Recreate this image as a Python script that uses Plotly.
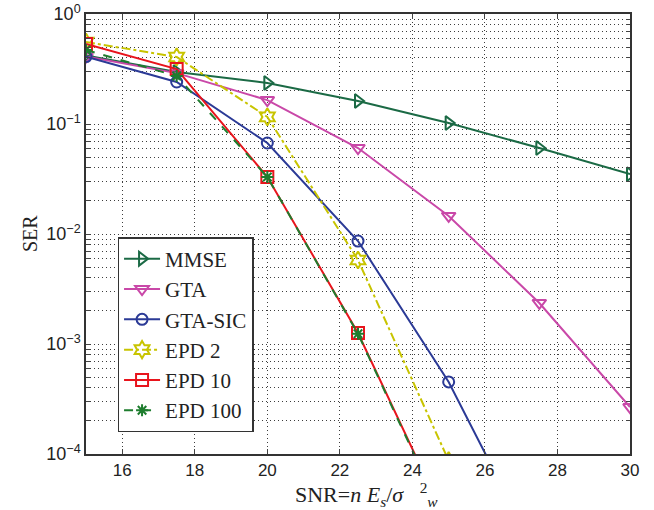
import plotly.graph_objects as go

snr = [15, 17.5, 20, 22.5, 25, 27.5, 30]
mmse = [0.42, 0.297, 0.236, 0.162, 0.102, 0.0605, 0.035]
gta = [0.41, 0.29, 0.165, 0.0605, 0.0146, 0.00236, 0.000267]
gta_sic = [0.41, 0.241, 0.0672, 0.00863, 0.000452, 1.1e-5, 2e-7]
epd2 = [0.556, 0.407, 0.116, 0.0058, 8.7e-5, 5e-7, 1e-9]
epd10 = [0.533, 0.316, 0.033, 0.00126, 2.2e-5, 1.5e-7, 1e-9]
epd100 = [0.47, 0.273, 0.033, 0.00124, 2.1e-5, 1.5e-7, 1e-9]

decades = [-4, -3, -2, -1]
major_labels = {0: "10<sup>0</sup>", -1: "10<sup>−1</sup>", -2: "10<sup>−2</sup>",
                -3: "10<sup>−3</sup>", -4: "10<sup>−4</sup>"}
xtick_vals = [16, 18, 20, 22, 24, 26, 28, 30]
x_title = "SNR=<i>n</i> <i>E</i><sub><i>s</i></sub>/<i>σ</i>   <sup>2</sup><sub><i>w</i></sub>"
y_title = "SER"

# y tick positions: majors labelled, minors (2..9) unlabelled
ytick_vals, ytick_text = [], []
for d in decades:
    ytick_vals.append(10.0 ** d)
    ytick_text.append(major_labels[d])
    for m in range(2, 10):
        ytick_vals.append(m * 10.0 ** d)
        ytick_text.append("")
ytick_vals.append(1.0)
ytick_text.append(major_labels[0])

series = [
    ("MMSE", mmse, "#1b6a45", "solid", "triangle-right-open", 12),
    ("GTA", gta, "#c948a8", "solid", "triangle-down-open", 12),
    ("GTA-SIC", gta_sic, "#2b3a96", "solid", "circle-open", 11),
    ("EPD 2", epd2, "#c8c400", "dashdot", "hexagram-open", 13),
    ("EPD 10", epd10, "#e8141c", "solid", "square-open", 12),
    ("EPD 100", epd100, "#1e7d2e", "dash", "asterisk-open", 10),
]

fig = go.Figure()
for name, vals, color, dash, sym, size in series:
    fig.add_trace(go.Scatter(
        x=snr, y=vals, name=name, mode="lines+markers",
        line=dict(color=color, width=2, dash=dash),
        marker=dict(symbol=sym, size=size, color=color, line=dict(color=color, width=2)),
    ))

grid_col = "rgba(40,40,40,0.9)"
grid_dash = "1px,3px"
serif = "Liberation Serif, Times New Roman, serif"
sans = "Liberation Sans, Arial, sans-serif"
fig.update_layout(
    width=654, height=510,
    margin=dict(l=86, r=24, t=14, b=56, autoexpand=False),
    plot_bgcolor="white", paper_bgcolor="white",
    showlegend=True,
    legend=dict(
        x=0.058, y=0.493, xanchor="left", yanchor="top",
        bgcolor="white", bordercolor="#333", borderwidth=1.5,
        font=dict(family=serif, size=21, color="#222"),
        itemwidth=36, tracegroupgap=0,
    ),
    xaxis=dict(
        range=[15, 30], tickvals=xtick_vals, ticks="inside", ticklen=5,
        tickfont=dict(family=sans, size=17, color="#222"),
        showgrid=True, gridcolor=grid_col, griddash=grid_dash, gridwidth=1,
        showline=True, linecolor="#333", linewidth=1.5, mirror="ticks",
        zeroline=False, automargin=False,
    ),
    yaxis=dict(
        type="log", range=[-4, 0], tickvals=ytick_vals, ticktext=ytick_text,
        ticks="inside", ticklen=4,
        tickfont=dict(family=sans, size=18, color="#222"),
        showgrid=True, gridcolor=grid_col, griddash=grid_dash, gridwidth=1,
        showline=True, linecolor="#333", linewidth=1.5, mirror="ticks",
        zeroline=False, automargin=False,
    ),
    annotations=[
        dict(text=x_title, xref="paper", yref="paper", x=0.515, y=0, yshift=-40,
             xanchor="center", yanchor="middle", showarrow=False,
             font=dict(family=serif, size=22, color="#222")),
        dict(text=y_title, xref="paper", yref="paper", x=0, y=0.5, xshift=-56,
             xanchor="center", yanchor="middle", showarrow=False, textangle=-90,
             font=dict(family=serif, size=20, color="#222")),
    ],
)

fig.write_html("out.html", config={"displayModeBar": False},
               post_script="document.body.style.margin='0';")
